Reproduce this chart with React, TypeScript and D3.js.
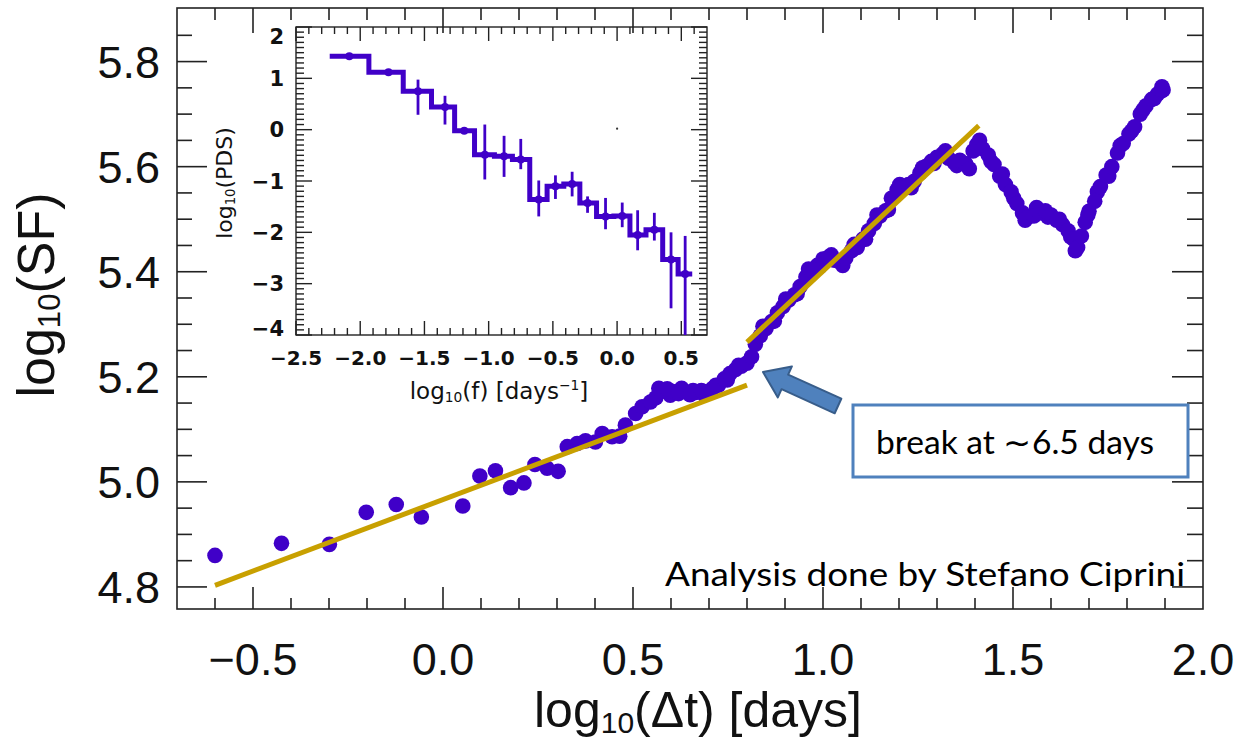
import * as d3 from "d3";
import { useEffect, useRef } from "react";

const WIDTH = 1238;
const HEIGHT = 742;

const PURPLE = "#4000c8";
const GOLD = "#c8a000";
const BOX_BLUE = "#4f81bd";
const ARROW_EDGE = "#385d8a";
const INK = "#222";

// Main panel: structure function, log10(dt) [days] vs log10(SF)
const sfLogDt = [
  -0.6, -0.425, -0.299, -0.202, -0.123, -0.057, 0.052, 0.097, 0.138, 0.178, 0.213, 0.242, 0.274, 0.303,
  0.327, 0.353, 0.375, 0.401, 0.419, 0.445, 0.465, 0.48, 0.507, 0.524, 0.546, 0.56, 0.575, 0.59, 0.605,
  0.62, 0.635, 0.65, 0.665, 0.68, 0.695, 0.71, 0.725, 0.74, 0.755, 0.77, 0.785, 0.8, 0.812, 0.822, 0.835,
  0.85, 0.865, 0.88, 0.895, 0.91, 0.925, 0.94, 0.955, 0.97, 0.985, 1.0, 1.015, 1.03, 1.045, 1.06, 1.075,
  1.09, 1.105, 1.12, 1.135, 1.15, 1.165, 1.18, 1.195, 1.21, 1.225, 1.24, 1.255, 1.27, 1.285, 1.3, 1.315,
  1.33, 1.345, 1.36, 1.375, 1.385, 1.395, 1.405, 1.42, 1.435, 1.45, 1.465, 1.48, 1.495, 1.51, 1.525, 1.54,
  1.555, 1.57, 1.585, 1.6, 1.615, 1.63, 1.645, 1.66, 1.67, 1.68, 1.69, 1.7, 1.715, 1.73, 1.745, 1.76,
  1.775, 1.79, 1.805, 1.82, 1.835, 1.85, 1.865, 1.88, 1.89, 1.895,
];
const sfLogSF = [
  4.86, 4.883, 4.881, 4.942, 4.957, 4.933, 4.954, 5.011, 5.021, 4.989, 4.998, 5.033, 5.026, 5.02,
  5.067, 5.073, 5.078, 5.076, 5.092, 5.086, 5.087, 5.108, 5.13, 5.143, 5.152, 5.16, 5.172, 5.177, 5.172,
  5.168, 5.172, 5.166, 5.17, 5.174, 5.172, 5.178, 5.184, 5.196, 5.206, 5.214, 5.22, 5.226, 5.238, 5.262, 5.278,
  5.292, 5.305, 5.322, 5.334, 5.346, 5.356, 5.372, 5.39, 5.402, 5.412, 5.424, 5.428, 5.422, 5.418, 5.426, 5.44,
  5.446, 5.462, 5.478, 5.492, 5.506, 5.516, 5.54, 5.556, 5.562, 5.566, 5.572, 5.588, 5.6, 5.61, 5.618, 5.624,
  5.616, 5.608, 5.612, 5.606, 5.596, 5.63, 5.642, 5.634, 5.622, 5.604, 5.582, 5.566, 5.552, 5.53, 5.512, 5.504,
  5.506, 5.512, 5.516, 5.508, 5.498, 5.49, 5.478, 5.462, 5.446, 5.468, 5.494, 5.515, 5.534, 5.562, 5.584, 5.6,
  5.626, 5.644, 5.662, 5.676, 5.7, 5.716, 5.728, 5.738, 5.744, 5.746,
];
// second sampling of the dense part (overlapping lags), slightly scattered around the first
const sfLogDtB = [
  0.568, 0.598, 0.628, 0.658, 0.688, 0.718, 0.748, 0.778, 0.842, 0.872, 0.902, 0.932, 0.962, 0.992,
  1.022, 1.052, 1.082, 1.112, 1.142, 1.172, 1.202, 1.232, 1.262, 1.292, 1.322, 1.352, 1.412, 1.442,
  1.472, 1.502, 1.532, 1.562, 1.592, 1.622, 1.652, 1.664, 1.697, 1.722, 1.752, 1.782, 1.812, 1.842,
  1.872, 1.892,
];
const sfLogSFB = [
  5.178, 5.165, 5.178, 5.174, 5.166, 5.184, 5.194, 5.222, 5.296, 5.306, 5.348, 5.358, 5.405, 5.41,
  5.432, 5.412, 5.452, 5.462, 5.508, 5.518, 5.566, 5.56, 5.598, 5.606, 5.63, 5.602, 5.65, 5.61,
  5.586, 5.54, 5.498, 5.522, 5.504, 5.5, 5.466, 5.44, 5.508, 5.552, 5.582, 5.64, 5.668, 5.708,
  5.73, 5.752,
];

// power-law fits below and above the break
const fitLowDt = [-0.6, 0.8];
const fitLowSF = [4.803, 5.184];
const fitHighDt = [0.8, 1.41];
const fitHighSF = [5.266, 5.678];

const mainXTicks = [-0.5, 0.0, 0.5, 1.0, 1.5, 2.0];
const mainYTicks = [4.8, 5.0, 5.2, 5.4, 5.6, 5.8];

// Inset: power density spectrum
const pdsLogF = [-2.085, -1.78, -1.55, -1.34, -1.19, -1.03, -0.88, -0.75, -0.61, -0.48, -0.35, -0.23, -0.09, 0.04, 0.16, 0.29, 0.42, 0.53];
const pdsLogP = [1.43, 1.12, 0.75, 0.44, -0.02, -0.49, -0.52, -0.58, -1.36, -1.1, -1.06, -1.43, -1.69, -1.68, -2.05, -1.95, -2.53, -2.81];
const pdsErrHi = [1.46, 1.15, 0.975, 0.66, 0.01, 0.1, -0.12, -0.18, -0.99, -0.89, -0.82, -1.3, -1.33, -1.42, -1.57, -1.62, -2.0, -2.07];
const pdsErrLo = [1.4, 1.09, 0.29, 0.1, -0.05, -0.97, -0.92, -0.77, -1.69, -1.35, -1.3, -1.62, -1.94, -1.9, -2.35, -2.16, -3.48, -4.0];

const insetXTicks = [-2.5, -2.0, -1.5, -1.0, -0.5, 0.0, 0.5];
const insetYTicks = [-4, -3, -2, -1, 0, 1, 2];

const fmt1 = d3.format(".1f");
const fmt0 = d3.format("d");

type Sel = d3.Selection<any, unknown, null, undefined>;

// text with a "log10" style subscript
function logLabel(g: Sel, rest: string, size: number, sup?: string) {
  g.append("tspan").text("log");
  g.append("tspan").attr("font-size", size * 0.6).attr("dy", size * 0.12).text("10");
  g.append("tspan").attr("dy", -size * 0.12).text(rest);
  if (sup) {
    g.append("tspan").attr("font-size", size * 0.6).attr("dy", -size * 0.38).text(sup);
    g.append("tspan").attr("dy", size * 0.38).text("]");
  }
}

const App = () => {
  const svgRef = useRef<SVGSVGElement>(null);

  useEffect(() => {
    if (!svgRef.current) return;
    const svg = d3.select(svgRef.current);
    svg.selectAll("*").remove();

    // --- main panel ---
    const left = 177, right = 1203, top = 8, bottom = 609;
    const x = d3.scaleLinear().domain([-0.7, 2.0]).range([left, right]);
    const y = d3.scaleLinear().domain([4.758, 5.902]).range([bottom, top]);

    const axes = svg.append("g").attr("stroke", INK).attr("stroke-width", 1.6);
    axes.append("rect")
      .attr("x", left).attr("y", top).attr("width", right - left).attr("height", bottom - top)
      .attr("fill", "none");

    const xMinor = d3.range(-6, 20).map((i) => i / 10).filter((v) => Math.abs(v * 2 - Math.round(v * 2)) > 1e-6);
    const xMajor = mainXTicks.filter((v) => v < 2.0);
    const yMinor = d3.range(97, 118).filter((i) => i % 4 !== 0).map((i) => i / 20);
    const yMajor = mainYTicks;

    const tick = (vals: number[], fn: (v: number) => [number, number, number, number]) =>
      vals.forEach((v) => {
        const [x1, y1, x2, y2] = fn(v);
        axes.append("line").attr("x1", x1).attr("y1", y1).attr("x2", x2).attr("y2", y2);
      });

    tick(xMajor, (v) => [x(v), bottom, x(v), bottom - 22]);
    tick(xMinor, (v) => [x(v), bottom, x(v), bottom - 11]);
    tick(xMajor, (v) => [x(v), top, x(v), top + 25]);
    tick(xMinor, (v) => [x(v), top, x(v), top + 12]);
    tick(yMajor, (v) => [left, y(v), left + 30, y(v)]);
    tick(yMinor, (v) => [left, y(v), left + 15, y(v)]);
    tick(yMajor, (v) => [right, y(v), right - 31, y(v)]);
    tick(yMinor, (v) => [right, y(v), right - 16, y(v)]);

    const labels = svg.append("g").attr("font-family", "Liberation Sans, Arial, sans-serif").attr("fill", "#111");
    labels.selectAll("text.ylab").data(mainYTicks).join("text")
      .attr("class", "ylab")
      .attr("x", 160).attr("y", (d) => y(d) + 16)
      .attr("text-anchor", "end").attr("font-size", 45)
      .text((d) => fmt1(d));
    labels.selectAll("text.xlab").data(mainXTicks).join("text")
      .attr("class", "xlab")
      .attr("x", (d) => x(d)).attr("y", 675)
      .attr("text-anchor", "middle").attr("font-size", 45)
      .text((d) => fmt1(d));

    const xTitle = labels.append("text")
      .attr("x", 698).attr("y", 727).attr("text-anchor", "middle").attr("font-size", 50);
    logLabel(xTitle, "(\u0394t)  [days]", 50);

    const yTitle = labels.append("text")
      .attr("transform", "translate(54,295) rotate(-90)")
      .attr("text-anchor", "middle").attr("font-size", 52);
    logLabel(yTitle, "(SF)", 52);

    // --- inset: PDS ---
    const iL = 296, iR = 707, iT = 27, iB = 335;
    const ix = d3.scaleLinear().domain([-2.5, 0.7]).range([iL, iR]);
    const iy = d3.scaleLinear().domain([-4, 2]).range([iB, iT]);

    const inset = svg.append("g");
    const iaxes = inset.append("g").attr("stroke", INK).attr("stroke-width", 1.4);
    iaxes.append("rect")
      .attr("x", iL).attr("y", iT).attr("width", iR - iL).attr("height", iB - iT).attr("fill", "none");
    const itick = (vals: number[], fn: (v: number) => [number, number, number, number]) =>
      vals.forEach((v) => {
        const [x1, y1, x2, y2] = fn(v);
        iaxes.append("line").attr("x1", x1).attr("y1", y1).attr("x2", x2).attr("y2", y2);
      });
    const ixMinor = d3.range(-24, 7).map((i) => i / 10).filter((v) => Math.abs(v * 2 - Math.round(v * 2)) > 1e-6);
    const iyMinor = d3.range(-39, 20).filter((i) => i % 10 !== 0).map((i) => i / 10);
    itick(insetXTicks, (v) => [ix(v), iB, ix(v), iB - 14]);
    itick(ixMinor, (v) => [ix(v), iB, ix(v), iB - 7]);
    itick(insetXTicks, (v) => [ix(v), iT, ix(v), iT + 14]);
    itick(ixMinor, (v) => [ix(v), iT, ix(v), iT + 7]);
    itick(insetYTicks, (v) => [iL, iy(v), iL + 16, iy(v)]);
    itick(iyMinor, (v) => [iL, iy(v), iL + 8, iy(v)]);
    itick(insetYTicks, (v) => [iR, iy(v), iR - 16, iy(v)]);
    itick(iyMinor, (v) => [iR, iy(v), iR - 8, iy(v)]);

    const ilabels = inset.append("g").attr("font-family", "DejaVu Sans, sans-serif").attr("fill", "#111");
    ilabels.selectAll("text.iy").data(insetYTicks).join("text")
      .attr("class", "iy")
      .attr("x", 284)
      .attr("y", (d) => Math.min(328, Math.max(36, iy(d))) + 7.5)
      .attr("text-anchor", "end").attr("font-size", 21).attr("font-weight", "bold")
      .text((d) => fmt0(d));
    ilabels.selectAll("text.ix").data(insetXTicks).join("text")
      .attr("class", "ix")
      .attr("x", (d) => ix(d)).attr("y", 365)
      .attr("text-anchor", "middle").attr("font-size", 20).attr("font-weight", "bold")
      .text((d) => fmt1(d));
    const ixTitle = ilabels.append("text")
      .attr("x", 499).attr("y", 399).attr("text-anchor", "middle").attr("font-size", 23);
    logLabel(ixTitle, "(f) [days", 23, "\u22121");
    const iyTitle = ilabels.append("text")
      .attr("transform", "translate(232,183) rotate(-90)")
      .attr("text-anchor", "middle").attr("font-size", 22);
    logLabel(iyTitle, "(PDS)", 22);

    // histogram-style step line, transitions halfway between bins
    const n = pdsLogF.length;
    const edges = pdsLogF.map((f, i) => {
      const lo = i === 0 ? f - (pdsLogF[1] - f) / 2 : (pdsLogF[i - 1] + f) / 2;
      const hi = i === n - 1 ? f + (f - pdsLogF[n - 2]) / 2 : (f + pdsLogF[i + 1]) / 2;
      return [lo, hi];
    });
    const stepPath = d3.path();
    edges.forEach(([lo, hi], i) => {
      if (i === 0) stepPath.moveTo(ix(lo), iy(pdsLogP[i]));
      else stepPath.lineTo(ix(lo), iy(pdsLogP[i]));
      stepPath.lineTo(ix(hi), iy(pdsLogP[i]));
    });
    inset.append("path")
      .attr("d", stepPath.toString())
      .attr("fill", "none").attr("stroke", PURPLE).attr("stroke-width", 5);
    inset.append("g").selectAll("line").data(pdsLogF).join("line")
      .attr("x1", (d) => ix(d)).attr("x2", (d) => ix(d))
      .attr("y1", (_d, i) => iy(pdsErrHi[i])).attr("y2", (_d, i) => iy(pdsErrLo[i]))
      .attr("stroke", PURPLE).attr("stroke-width", 2.8);
    inset.append("g").selectAll("circle").data(pdsLogF).join("circle")
      .attr("cx", (d) => ix(d)).attr("cy", (_d, i) => iy(pdsLogP[i])).attr("r", 4)
      .attr("fill", PURPLE);
    inset.append("circle").attr("cx", ix(0)).attr("cy", iy(0.02)).attr("r", 1.1).attr("fill", "#333");

    // --- structure function points and fits ---
    const pts = svg.append("g").attr("fill", PURPLE);
    pts.selectAll("circle.b").data(sfLogDtB).join("circle")
      .attr("class", "b")
      .attr("cx", (d) => x(d)).attr("cy", (_d, i) => y(sfLogSFB[i])).attr("r", 7.8);
    pts.selectAll("circle.a").data(sfLogDt).join("circle")
      .attr("class", "a")
      .attr("cx", (d) => x(d)).attr("cy", (_d, i) => y(sfLogSF[i])).attr("r", 7.8);

    const fitLine = d3.line<number>().x((d) => x(d));
    svg.append("path")
      .attr("d", fitLine.y((_d, i) => y(fitLowSF[i]))(fitLowDt))
      .attr("stroke", GOLD).attr("stroke-width", 5).attr("fill", "none");
    svg.append("path")
      .attr("d", fitLine.y((_d, i) => y(fitHighSF[i]))(fitHighDt))
      .attr("stroke", GOLD).attr("stroke-width", 5).attr("fill", "none");

    // --- annotations ---
    const tip: [number, number] = [763, 372];
    const tail: [number, number] = [838, 406];
    const len = Math.hypot(tail[0] - tip[0], tail[1] - tip[1]);
    const ang = (Math.atan2(tip[1] - tail[1], tip[0] - tail[0]) * 180) / Math.PI;
    const hl = 24, hw = 17, sw = 8;
    const arrowPts = [[0, 0], [-hl, -hw], [-hl, -sw], [-len, -sw], [-len, sw], [-hl, sw], [-hl, hw]];
    svg.append("polygon")
      .attr("points", arrowPts.map((p) => p.join(",")).join(" "))
      .attr("transform", `translate(${tip[0]},${tip[1]}) rotate(${ang})`)
      .attr("fill", BOX_BLUE).attr("stroke", ARROW_EDGE).attr("stroke-width", 2).attr("stroke-linejoin", "round");

    svg.append("rect")
      .attr("x", 853).attr("y", 405).attr("width", 335).attr("height", 72)
      .attr("fill", "#fff").attr("stroke", BOX_BLUE).attr("stroke-width", 3);
    const note = svg.append("g").attr("font-family", "Lato, Open Sans, sans-serif").attr("font-size", 33).attr("fill", "#000");
    note.append("text")
      .attr("x", 876).attr("y", 454)
      .attr("textLength", 278).attr("lengthAdjust", "spacingAndGlyphs")
      .text("break at \u223c6.5 days");
    note.append("text")
      .attr("x", 665).attr("y", 586)
      .attr("textLength", 520).attr("lengthAdjust", "spacingAndGlyphs")
      .text("Analysis done by Stefano Ciprini");
  }, []);

  return (
    <svg
      ref={svgRef}
      width={WIDTH}
      height={HEIGHT}
      style={{ position: "absolute", left: 0, top: 0, background: "#fff" }}
    />
  );
};

export default App;
